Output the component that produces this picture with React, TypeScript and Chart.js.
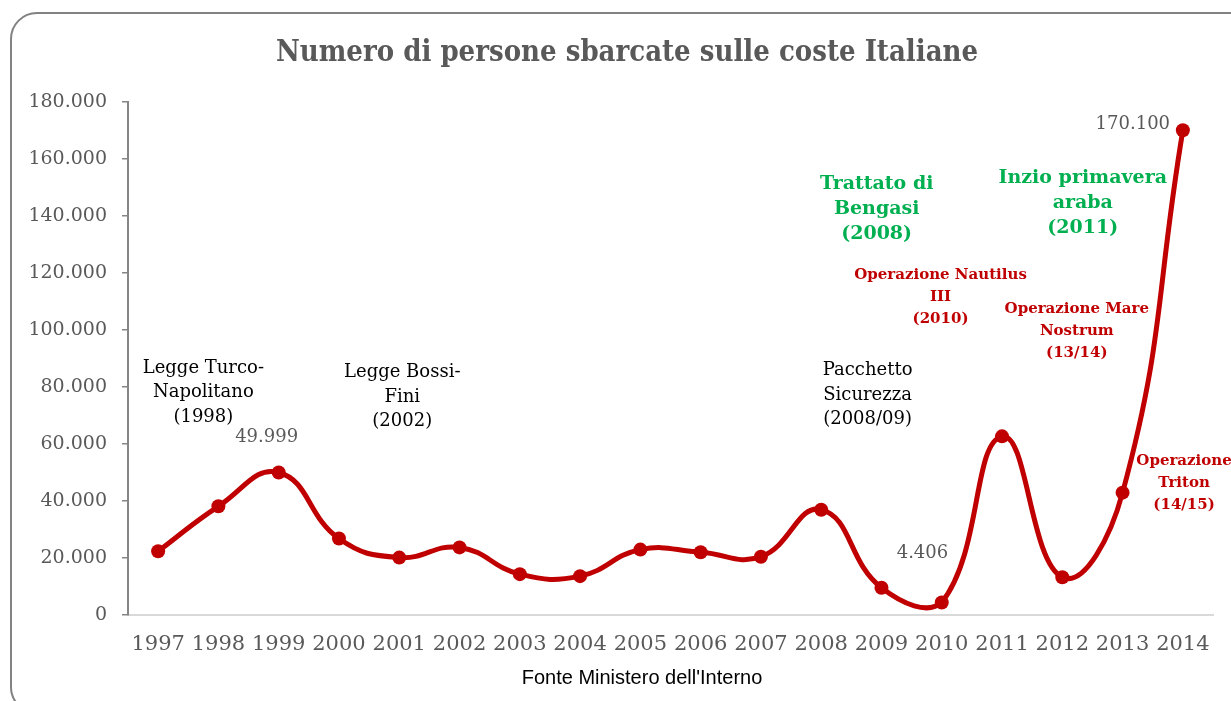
import React, { useEffect, useRef } from "react";
import { Chart, registerables } from "chart.js";

Chart.register(...registerables);

const titleText = "Numero di persone sbarcate sulle coste Italiane";
const sourceText = "Fonte Ministero dell'Interno";
const years = ["1997", "1998", "1999", "2000", "2001", "2002", "2003", "2004", "2005", "2006", "2007", "2008", "2009", "2010", "2011", "2012", "2013", "2014"];
const arrivals = [22343, 38134, 49999, 26817, 20143, 23719, 14331, 13635, 22939, 22016, 20455, 36951, 9573, 4406, 62692, 13267, 42925, 170100];
const yMin = 0;
const yMax = 180000;
const yStep = 20000;

// annotation anchors: category index (fractional) and value (data units) of the middle line
const noteLines = [
  ["Legge Turco-", "Napolitano", "(1998)"],
  ["49.999"],
  ["Legge Bossi-", "Fini", "(2002)"],
  ["Pacchetto", "Sicurezza", "(2008/09)"],
  ["Trattato di", "Bengasi", "(2008)"],
  ["Inzio primavera", "araba", "(2011)"],
  ["Operazione Nautilus", "III", "(2010)"],
  ["Operazione Mare", "Nostrum", "(13/14)"],
  ["4.406"],
  ["170.100"],
  ["Operazione", "Triton", "(14/15)"],
];
const noteX = [0.75, 1.8, 4.05, 11.77, 11.92, 15.34, 12.98, 15.24, 12.68, 16.17, 17.02];
const noteY = [78000, 62500, 76500, 77200, 142500, 144500, 111600, 99600, 21800, 172300, 46300];
const noteKind = ["law", "value", "law", "law", "event", "event", "op", "op", "value", "value", "op"];

const RED = "#C00000";
const GRAY = "#595959";

const kindStyle: Record<string, { font: string; color: string; lh: number }> = {
  law: { font: "18px 'DejaVu Serif'", color: "#000000", lh: 24.5 },
  value: { font: "18px 'DejaVu Serif'", color: GRAY, lh: 24 },
  event: { font: "bold 19px 'DejaVu Serif'", color: "#00B050", lh: 25 },
  op: { font: "bold 15px 'DejaVu Serif'", color: RED, lh: 22 },
};

function fmt(v: number): string {
  return String(Math.round(v)).replace(/\B(?=(\d{3})+(?!\d))/g, ".");
}

const framePlugin = {
  id: "frame",
  beforeDraw(chart: any) {
    const ctx = chart.ctx;
    ctx.save();
    ctx.fillStyle = "#ffffff";
    ctx.fillRect(0, 0, chart.width, chart.height);
    const x = 11, y = 13, w = chart.width + 40, h = chart.height - 13 + 12, r = 26;
    ctx.beginPath();
    ctx.moveTo(x + r, y);
    ctx.lineTo(x + w, y);
    ctx.lineTo(x + w, y + h);
    ctx.lineTo(x + r, y + h);
    ctx.arcTo(x, y + h, x, y + h - r, r);
    ctx.lineTo(x, y + r);
    ctx.arcTo(x, y, x + r, y, r);
    ctx.closePath();
    ctx.lineWidth = 2;
    ctx.strokeStyle = "#828282";
    ctx.stroke();
    ctx.fillStyle = GRAY;
    ctx.font = "bold 29px 'DejaVu Serif Condensed', 'DejaVu Serif'";
    ctx.textAlign = "center";
    ctx.textBaseline = "middle";
    ctx.fillText(titleText, 627, 53);
    ctx.fillStyle = "#000000";
    ctx.font = "20px 'Liberation Sans'";
    ctx.fillText(sourceText, 642, 678);
    ctx.restore();
  },
  afterDraw(chart: any) {
    const ctx = chart.ctx;
    const xs = chart.scales.x;
    const ys = chart.scales.y;
    ctx.save();
    ctx.textAlign = "center";
    ctx.textBaseline = "middle";
    noteLines.forEach((lines, i) => {
      const st = kindStyle[noteKind[i]];
      ctx.font = st.font;
      ctx.fillStyle = st.color;
      const cx = xs.getPixelForValue(noteX[i]);
      const cy = ys.getPixelForValue(noteY[i]);
      const mid = (lines.length - 1) / 2;
      lines.forEach((t, j) => {
        ctx.fillText(t, cx, cy + (j - mid) * st.lh);
      });
    });
    ctx.restore();
  },
};

export default function App() {
  const ref = useRef<HTMLCanvasElement | null>(null);
  useEffect(() => {
    document.body.style.margin = "0";
    const canvas = ref.current;
    if (!canvas) return;
    const chart = new Chart(canvas, {
      type: "line",
      data: {
        labels: years,
        datasets: [
          {
            data: arrivals,
            borderColor: RED,
            backgroundColor: RED,
            borderWidth: 5,
            pointRadius: 7,
            pointHoverRadius: 7,
            pointBackgroundColor: RED,
            pointBorderColor: RED,
            pointBorderWidth: 0,
            tension: 0.45,
            fill: false,
            clip: false,
          },
        ],
      },
      options: {
        responsive: false,
        animation: false,
        layout: { padding: { left: 0, right: 18, top: 102, bottom: 0 } },
        plugins: { legend: { display: false }, tooltip: { enabled: false }, title: { display: false } },
        scales: {
          x: {
            offset: true,
            grid: { display: false, drawTicks: false },
            border: { display: true, color: "#D9D9D9", width: 2 },
            ticks: { color: GRAY, font: { family: "'DejaVu Serif'", size: 21 }, padding: 17, maxRotation: 0, autoSkip: false },
            afterFit: (s: any) => { s.height = 86; },
          },
          y: {
            min: yMin,
            max: yMax,
            grid: { display: true, drawOnChartArea: false, drawTicks: true, tickLength: 6, color: "#868686", lineWidth: 1.5 },
            border: { display: true, color: "#868686", width: 2 },
            ticks: { stepSize: yStep, color: GRAY, font: { family: "'DejaVu Serif'", size: 19 }, padding: 15, callback: (v: any) => fmt(Number(v)) },
            afterFit: (s: any) => { s.width = 128; },
          },
        },
      },
      plugins: [framePlugin],
    });
    return () => chart.destroy();
  }, []);
  return (
    <div style={{ position: "absolute", left: 0, top: 0 }}>
      <canvas ref={ref} width={1231} height={701} style={{ display: "block" }} />
    </div>
  );
}
